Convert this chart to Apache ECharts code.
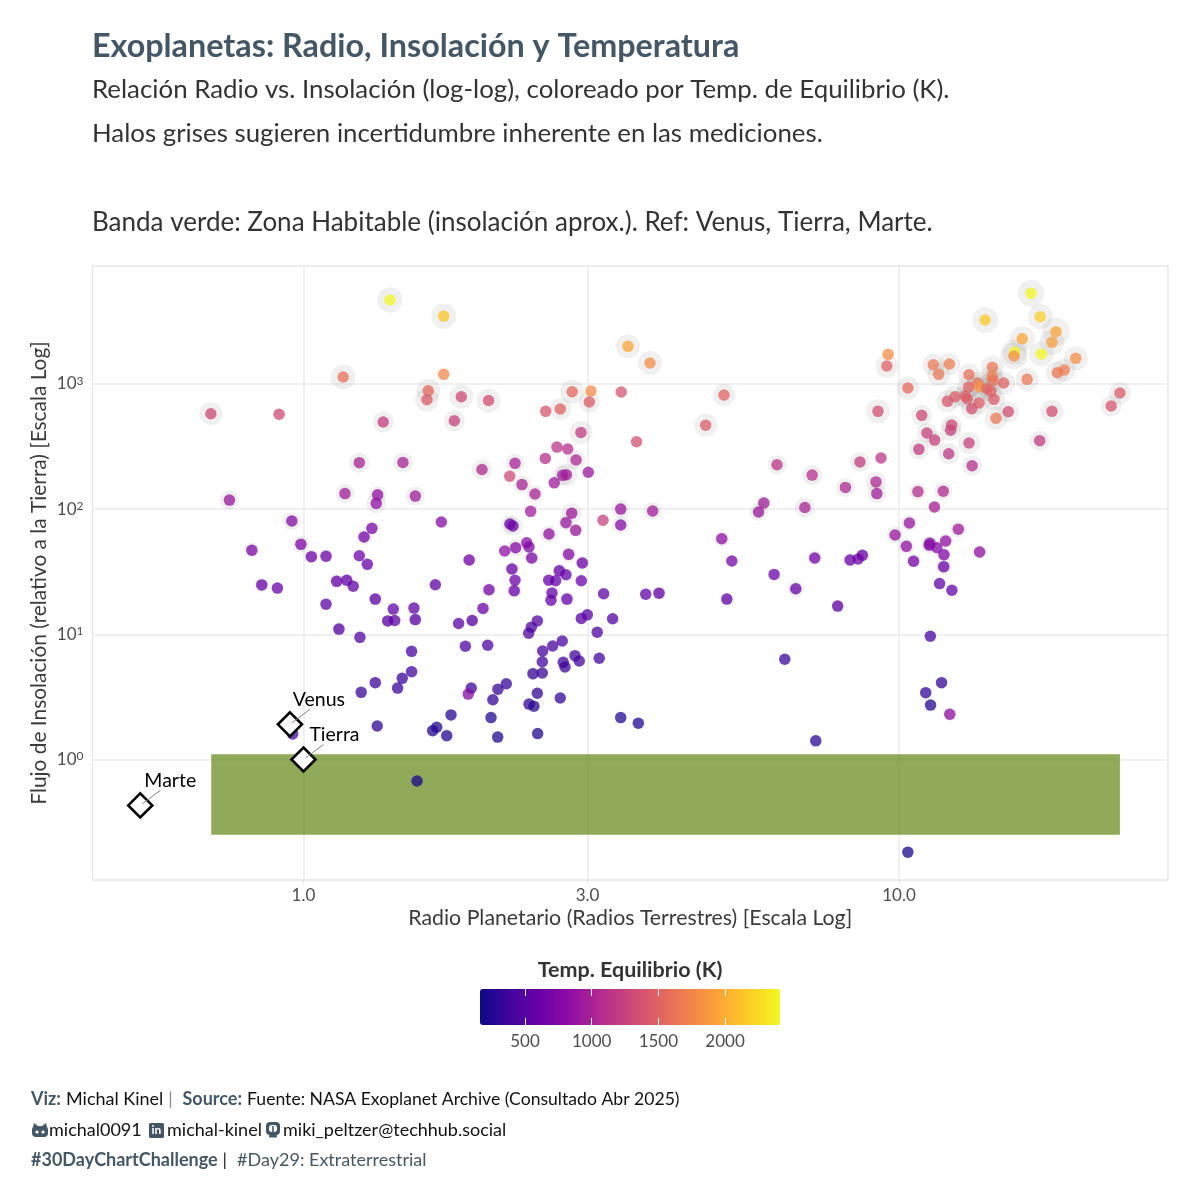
<!DOCTYPE html>
<html>
<head>
<meta charset="utf-8">
<style>html,body{margin:0;padding:0;background:#fff}#chart{width:1200px;height:1200px}</style>
<script src="https://cdn.jsdelivr.net/npm/echarts@6/dist/echarts.min.js"></script>
</head>
<body>
<div id="chart"></div>
<script>
// valores: radio (radios terrestres), insolacion (Tierra = 1), Teq (K), halo de incertidumbre
var radius = [1.397,1.720,1.166,1.720,1.620,1.612,1.841,2.046,0.699,0.910,1.361,1.792,1.241,1.469,1.994,1.174,1.332,1.325,1.541,0.751,0.956,1.303,1.264,1.704,
  3.507,3.819,2.827,3.040,3.020,2.699,2.551,3.417,5.083,4.736,2.924,3.626,2.665,2.778,2.547,2.869,2.266,2.220,2.328,2.448,2.637,2.725,2.763,3.008,2.407,2.821,2.759,2.865,3.410,3.410,3.858,3.184,2.222,2.248,2.584,2.371,
  2.392,2.271,2.177,2.417,2.788,2.939,2.239,2.689,2.759,2.581,2.651,2.928,2.266,2.049,2.259,2.614,2.604,2.770,3.192,3.756,3.954,2.002,2.997,2.928,3.305,2.470,2.413,2.389,3.114,2.039,2.720,2.621,2.522,2.518,2.857,2.905,2.730,2.749,3.138,2.429,2.518,2.191,2.121,2.470,2.080,2.699,2.392,2.438,2.065,3.410,3.650,2.119,2.473,
  0.819,0.990,1.031,1.091,1.241,1.280,1.898,0.851,0.904,1.137,1.182,1.212,1.665,1.091,1.320,1.415,1.533,1.385,1.423,1.541,1.920,1.822,1.147,1.244,1.870,1.519,1.519,1.465,1.439,1.320,1.250,1.913,1.891,1.769,1.330,1.674,1.648,1.740,0.959,1.551,10.35,7.25,
  6.24,7.15,8.60,9.33,9.15,9.18,8.13,10.76,11.87,11.47,5.93,5.81,6.95,10.41,12.58,5.04,9.85,10.29,11.27,11.24,11.58,11.98,11.90,13.66,5.24,7.22,8.28,8.54,8.68,10.58,11.89,6.17,6.71,5.14,11.70,12.27,7.89,11.29,6.43,11.79,11.09,11.30,12.17,
  16.66,13.95,17.27,16.11,18.35,18.07,15.64,15.60,17.34,19.81,18.95,18.45,16.41,9.59,9.54,10.35,9.22,11.42,12.15,11.66,13.11,14.35,14.33,14.38,14.99,13.56,13.64,13.09,14.04,14.26,12.42,12.92,13.02,12.06,14.44,13.63,13.25,15.26,18.07,14.55,23.50,22.72,10.92,12.26,12.21,11.14,11.48,13.11,10.80,12.12,17.23,13.27];
var flux = [4677,3483,1135,1193,882,748,790,737,578,572,496,508,235,236,207,133,130,111,127,118,80.3,70.2,59.8,78.9,
  1996,1468,866,877,717,630,604,861,815,467,410,345,313,302,254,247,232,183,157,132,162,186,188,197,96,92.6,77.9,67.7,100,74.6,96.6,81.4,76.0,73.3,63.2,53.9,
  49.8,49.2,46.3,40.7,43.5,37.1,33.2,32.2,29.9,27.0,26.8,26.8,27.0,22.7,22.3,21.4,18.7,19.1,21.1,20.9,21.3,16.1,14.3,13.4,13.3,12.8,11.4,10.2,10.4,8.17,8.84,8.06,7.35,6.04,6.75,6.12,5.97,5.48,6.43,4.85,4.91,4.03,3.64,3.38,3.00,3.10,2.77,2.66,2.16,2.16,1.95,1.51,1.61,
  46.9,52.3,41.7,42.0,42.4,36.2,39.2,24.8,23.4,26.5,27.0,24.2,24.9,17.4,19.1,15.9,16.2,12.8,12.9,13.1,12.9,12.2,11.0,9.46,8.02,7.31,5.03,4.45,3.72,4.11,3.44,3.72,3.33,2.27,1.85,1.81,1.70,1.55,1.60,0.673,0.182,1.41,
  226,187,238,256,165,133,149,138,139,104,112,94.8,103,77.4,69.0,58.0,62.1,50.4,53.3,51.4,49.2,55.6,43.2,45.4,38.5,40.7,39.2,39.9,42.7,38.3,34.7,30.1,23.1,19.1,25.4,22.5,16.8,9.64,6.32,4.11,3.42,2.72,2.30,
  5290,3237,3441,2296,2611,2148,1797,1670,1733,1600,1291,1229,1088,1723,1390,927,604,1423,1442,1193,1184,1357,1150,1068,1016,1016,944,944,915,873,790,800,761,726,753,704,634,600,604,531,846,666,561,470,426,405,356,337,300,277,352,222];
var tempK = [2400,2150,1600,1750,1550,1450,1300,1350,1300,1300,1200,1250,1000,1000,1050,950,850,850,950,900,790,680,680,790,
  1950,1800,1550,1800,1450,1500,1400,1400,1500,1450,1200,1350,1150,1100,1100,1050,1000,1300,1000,1000,950,950,950,900,950,900,900,900,900,790,950,1250,640,640,850,790,
  740,790,830,740,790,640,640,585,585,585,585,610,640,690,610,575,575,610,550,550,550,610,515,515,490,490,450,450,470,450,425,425,405,395,395,395,385,370,395,360,360,350,330,320,320,310,300,290,280,280,260,240,250,
  740,740,640,640,640,585,680,610,610,585,585,540,550,540,550,540,540,515,515,515,515,515,490,470,460,425,385,360,350,360,330,350,790,290,300,270,270,260,385,220,210,280,
  1150,1100,1200,1150,1050,950,1050,1100,1050,1000,950,900,1000,900,950,850,900,850,790,790,790,850,790,850,680,680,640,640,640,680,610,610,585,575,550,550,550,425,360,320,330,260,850,
  2400,2150,2200,1950,1950,1900,2400,1800,2400,1800,1700,1650,1650,1800,1500,1550,1350,1650,1700,1650,1600,1650,1700,1600,1500,1600,1850,1500,1500,1500,1450,1450,1450,1400,1450,1450,1350,1350,1350,1650,1450,1400,1300,1300,1250,1250,1250,1250,1200,1150,1200,1100];
var halo = [12.7,12.5,12.5,0,12,12,12,12,11.5,0,10.5,10.5,10,10,10,9.5,8.5,10,9.5,9.5,9,0,8,0,
  12,12,12,0,10.5,11,0,0,11,11.5,11.5,0,0,0,0,9.5,9.5,0,9,8.5,0,10,11,0,0,10,7.5,6.5,9,8.5,9,0,9,9.5,8.5,0,
  0,9,0,7.5,8,7,6.5,7,0,0,0,0,0,7,7.5,0,0,7,0,0,6.5,0,0,0,0,0,0,0,0,0,0,0,0,0,0,0,0,0,0,6.5,0,0,0,0,0,0,0,0,0,0,0,0,0,
  7.5,8.5,7,7,0,0,6.5,7.5,0,7,6,0,0,0,6.5,0,0,5.5,0,6.5,6,0,6.5,0,0,0,0,0,0,0,0,0,0,0,0,0,0,0,0,0,0,0,
  9.5,10,10,0,10,9.5,9.5,8.5,9,6,7.5,9,10,8,8,7.5,8.5,8,7.5,8.5,0,7.5,6.5,7,0,7.5,7.5,0,6,6.5,8,0,8,5.5,0,0,5.5,0,0,0,0,0,6.5,
  13.5,13,12.5,12.5,14,12.5,12.5,13.5,12.5,12,11.5,11.5,11.5,0,11.5,11.5,12,11,11,11.5,11,11.5,11,11,11.5,11,11.5,11.5,11,11,11,11,11,11,11,11,10.5,10.5,11.5,11.5,11,10.5,10.5,10,10.5,10,9.5,11,10,10.5,10,10];

var refNames = ['Venus', 'Tierra', 'Marte'];
var refRadius = [0.949, 1, 0.532];
var refFlux = [1.91, 1, 0.43];

var xTicks = [1, 3, 10];
var yTicks = [1, 10, 100, 1000];
var tempTicks = [500, 1000, 1500, 2000];
var habFlux = [0.25, 1.1];
var habRadius = [0.7, 23.5];
var plasma = ['#0d0887','#41049d','#6a00a8','#8f0da4','#b12a90','#cc4778','#e16462','#f1844b','#fca636','#fcce25','#f0f921'];

var FONT = 'Lato';
var SLATE = '#455765';

var pts = radius.map(function (r, i) { return [r, flux[i], tempK[i], halo[i]]; });
var refs = refNames.map(function (n, i) { return { name: n, value: [refRadius[i], refFlux[i]] }; });
var refOffset = { Venus: [29, -25], Tierra: [31, -25], Marte: [30, -25] };

function textTitle(text, left, top, size, color, weight) {
  return { text: text, left: left, top: top, padding: 0,
    textStyle: { fontFamily: FONT, fontSize: size, color: color, fontWeight: weight || 'normal' } };
}

var footRich = {
  b: { fontFamily: FONT, fontSize: 18, fontWeight: 'bold', color: SLATE },
  n: { fontFamily: FONT, fontSize: 18, fontWeight: 'normal', color: '#111' },
  f: { fontFamily: FONT, fontSize: 17.6, fontWeight: 'normal', color: '#111' },
  g: { fontFamily: FONT, fontSize: 18, fontWeight: 'normal', color: '#888' },
  d: { fontFamily: FONT, fontSize: 18, fontWeight: 'normal', color: '#222' },
  l: { fontFamily: FONT, fontSize: 18, fontWeight: 'normal', color: SLATE }
};

var myChart = echarts.init(document.getElementById('chart'));

var option = {
  backgroundColor: '#fff',
  animation: false,
  title: [
    textTitle('Exoplanetas: Radio, Insolación y Temperatura', 92, 31, 32.3, SLATE, 'bold'),
    textTitle('Relación Radio vs. Insolación (log-log), coloreado por Temp. de Equilibrio (K).', 92, 77, 25.85, '#333'),
    textTitle('Halos grises sugieren incertidumbre inherente en las mediciones.', 92, 121, 25.85, '#333'),
    textTitle('Banda verde: Zona Habitable (insolación aprox.). Ref: Venus, Tierra, Marte.', 92, 210, 26, '#333'),
    { text: 'Temp. Equilibrio (K)', left: 630, top: 959, textAlign: 'center', padding: 0,
      textStyle: { fontFamily: FONT, fontSize: 21.5, fontWeight: 'bold', color: '#333' } },
    { text: '{b|Viz:} {n|Michal Kinel} {g|| } {b|Source:} {f|Fuente: NASA Exoplanet Archive (Consultado Abr 2025)}',
      left: 31, top: 1090, padding: 0, textStyle: { rich: footRich } },
    textTitle('michal0091', 49, 1121, 18, '#111'),
    textTitle('michal-kinel', 167, 1121, 18, '#111'),
    textTitle('miki_peltzer@techhub.social', 283, 1121, 18, '#111'),
    { text: '{b|#30DayChartChallenge} {d||}  {l|#Day29: Extraterrestrial}',
      left: 31, top: 1151, padding: 0, textStyle: { rich: footRich } }
  ],
  grid: [
    { left: 92.5, top: 266, width: 1075.5, height: 614, show: true, borderColor: '#e6e6e6', borderWidth: 1.5 },
    { left: 480, top: 989, width: 300, height: 36 }
  ],
  xAxis: [
    {
      type: 'log', logBase: 10, min: 0.4423, max: 28.3, gridIndex: 0,
      name: 'Radio Planetario (Radios Terrestres) [Escala Log]',
      nameLocation: 'middle', nameGap: 38, nameMoveOverlap: false,
      nameTextStyle: { fontFamily: FONT, fontSize: 21.3, color: '#3a3a3a', verticalAlign: 'middle' },
      axisLine: { show: false },
      axisTick: { show: true, length: 3, lineStyle: { color: '#ddd' }, customValues: xTicks },
      axisLabel: { fontFamily: FONT, fontSize: 17, color: '#4d4d4d', margin: 7, customValues: xTicks,
        formatter: function (v) { return Number(v).toFixed(1); } },
      minorTick: { show: false },
      splitLine: { show: true, lineStyle: { color: '#ebebeb', width: 1.5 } }
    },
    {
      type: 'value', gridIndex: 1, min: 163, max: 2412, position: 'bottom', z: 6,
      axisLine: { show: false },
      axisTick: { show: true, inside: true, length: 7, lineStyle: { color: '#fff', width: 1 }, customValues: tempTicks },
      axisLabel: { fontFamily: FONT, fontSize: 17, color: '#4d4d4d', margin: 8, customValues: tempTicks,
        formatter: function (v) { return String(v); } },
      splitLine: { show: false }
    },
    {
      type: 'value', gridIndex: 1, min: 163, max: 2412, position: 'top', z: 6,
      axisLine: { show: false },
      axisTick: { show: true, inside: true, length: 7, lineStyle: { color: '#fff', width: 1 }, customValues: tempTicks },
      axisLabel: { show: false },
      splitLine: { show: false }
    }
  ],
  yAxis: [
    {
      type: 'log', logBase: 10, min: 0.109, max: 8746, gridIndex: 0,
      name: 'Flujo de Insolación (relativo a la Tierra) [Escala Log]',
      nameLocation: 'middle', nameGap: 53, nameMoveOverlap: false,
      nameTextStyle: { fontFamily: FONT, fontSize: 20.9, color: '#3a3a3a', verticalAlign: 'middle' },
      axisLine: { show: false },
      axisTick: { show: false, customValues: yTicks },
      axisLabel: { fontFamily: FONT, color: '#4d4d4d', margin: 9, customValues: yTicks,
        formatter: function (v) { return '{t|10}{s|' + Math.round(Math.log10(v)) + '}'; },
        rich: {
          t: { fontFamily: FONT, fontSize: 17, color: '#4d4d4d' },
          s: { fontFamily: FONT, fontSize: 12, color: '#4d4d4d', verticalAlign: 'top', padding: [0, 0, 6, 0] }
        } },
      splitLine: { show: true, lineStyle: { color: '#ebebeb', width: 1.5 } }
    },
    {
      type: 'value', gridIndex: 1, min: 0, max: 1, show: false
    }
  ],
  visualMap: [{
    type: 'continuous', seriesIndex: 2, dimension: 2,
    min: 163, max: 2412, orient: 'horizontal', left: 480, top: 989, padding: 0,
    itemWidth: 36, itemHeight: 300, calculable: false, hoverLink: false, showLabel: false, text: null,
    inRange: { color: plasma }, z: 4
  }],
  series: [
    {
      // zona habitable
      type: 'scatter', data: [], z: 1, silent: true,
      markArea: {
        silent: true,
        itemStyle: { color: 'rgba(107,142,35,0.75)', opacity: 1 },
        data: [[{ coord: [habRadius[0], habFlux[0]] }, { coord: [habRadius[1], habFlux[1]] }]]
      }
    },
    {
      // halos de incertidumbre
      type: 'scatter', data: pts, z: 2, silent: true,
      encode: { x: 0, y: 1 },
      symbolSize: function (d) { return d[3] * 2; },
      itemStyle: { color: 'rgba(120,120,120,0.11)', opacity: 1 }
    },
    {
      type: 'scatter', data: pts, z: 3,
      encode: { x: 0, y: 1 },
      symbolSize: 11.5,
      itemStyle: { opacity: 0.75 }
    },
    {
      // Venus, Tierra, Marte
      type: 'scatter', data: refs, z: 5,
      symbol: 'diamond', symbolSize: 24,
      itemStyle: { color: '#fff', borderColor: '#000', borderWidth: 2.6, opacity: 1 },
      label: { show: true, position: 'inside', formatter: '{b}',
        fontFamily: FONT, fontSize: 19.5, color: '#000' },
      labelLayout: function (p) {
        var o = refOffset[p.text];
        return { dx: o[0], dy: o[1] };
      }
    },
    {
      // segmentos de las etiquetas
      type: 'custom', data: refs, z: 6, silent: true,
      renderItem: function (params, api) {
        var p = api.coord([api.value(0), api.value(1)]);
        return { type: 'line',
          shape: { x1: p[0] + 2, y1: p[1] - 1.5, x2: p[0] + 20, y2: p[1] - 15 },
          style: { stroke: '#808080', lineWidth: 1 } };
      }
    }
  ],
  graphic: [
    // github
    { type: 'group', left: 32, top: 1123, children: [
      { type: 'rect', shape: { x: 0, y: 3, width: 16, height: 11, r: 4 }, style: { fill: SLATE } },
      { type: 'polygon', shape: { points: [[1, 5], [2, 0], [6, 3]] }, style: { fill: SLATE } },
      { type: 'polygon', shape: { points: [[15, 5], [14, 0], [10, 3]] }, style: { fill: SLATE } },
      { type: 'circle', shape: { cx: 5, cy: 9, r: 1.6 }, style: { fill: '#fff' } },
      { type: 'circle', shape: { cx: 11, cy: 9, r: 1.6 }, style: { fill: '#fff' } }
    ] },
    // linkedin
    { type: 'group', left: 149, top: 1123, children: [
      { type: 'rect', shape: { x: 0, y: 0, width: 15, height: 15, r: 1.5 }, style: { fill: SLATE } },
      { type: 'text', x: 2.5, y: 1, style: { text: 'in', fill: '#fff', font: 'bold 12px Lato' } }
    ] },
    // mastodon
    { type: 'group', left: 266, top: 1122, children: [
      { type: 'rect', shape: { x: 0, y: 0, width: 14, height: 13, r: 4 }, style: { fill: SLATE } },
      { type: 'rect', shape: { x: 3, y: 3, width: 8, height: 7, r: 3 }, style: { fill: '#fff' } },
      { type: 'rect', shape: { x: 6.2, y: 4, width: 1.6, height: 6 }, style: { fill: SLATE } },
      { type: 'rect', shape: { x: 3, y: 13, width: 8, height: 2.5, r: 1 }, style: { fill: SLATE } }
    ] }
  ]
};

myChart.setOption(option);
</script>
</body>
</html>
